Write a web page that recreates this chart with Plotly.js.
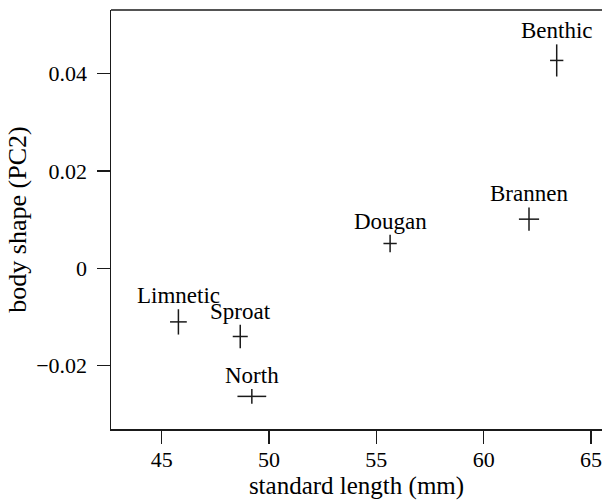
<!DOCTYPE html>
<html>
<head>
<meta charset="utf-8">
<script src="https://cdn.plot.ly/plotly-3.0.1.min.js"></script>
<style>html,body{margin:0;padding:0;background:#fff;}#chart{width:602px;height:501px;}</style>
</head>
<body>
<div id="chart"></div>
<script>
const sites = ['Benthic', 'Brannen', 'Dougan', 'Limnetic', 'Sproat', 'North'];
const lengthMean = [63.40, 62.11, 55.64, 45.78, 48.66, 49.20];
const pc2Mean = [0.0427, 0.0101, 0.0051, -0.0110, -0.0140, -0.0263];
const lengthSE = [0.31, 0.47, 0.31, 0.39, 0.35, 0.67];
const pc2SE = [0.0033, 0.0024, 0.0018, 0.0026, 0.0024, 0.0015];

const fontFam = 'Liberation Serif, Times New Roman, serif';
const ink = '#1a1a1a';

const trace = {
  type: 'scatter',
  mode: 'markers',
  x: lengthMean,
  y: pc2Mean,
  text: sites,
  marker: {size: 1, color: 'rgba(0,0,0,0)'},
  error_x: {type: 'data', array: lengthSE, visible: true, color: ink, thickness: 1.5, width: 0},
  error_y: {type: 'data', array: pc2SE, visible: true, color: ink, thickness: 1.5, width: 0},
  hoverinfo: 'text+x+y',
  showlegend: false
};

const annotations = sites.map((s, i) => ({
  x: lengthMean[i],
  y: pc2Mean[i] + pc2SE[i],
  xref: 'x', yref: 'y',
  text: s,
  showarrow: false,
  xanchor: 'center',
  yanchor: 'bottom',
  yshift: -1,
  font: {family: fontFam, size: 23, color: '#000'}
}));

const layout = {
  width: 602,
  height: 501,
  margin: {l: 111, r: 0, t: 10, b: 72},
  paper_bgcolor: '#fff',
  plot_bgcolor: '#fff',
  font: {family: fontFam, size: 22, color: '#000'},
  xaxis: {
    range: [42.64, 65.51],
    dtick: 5,
    tick0: 45,
    showgrid: false,
    zeroline: false,
    showline: true,
    linecolor: ink,
    linewidth: 1.5,
    ticks: 'outside',
    ticklen: 13,
    tickwidth: 1.5,
    tickcolor: ink,
    ticklabeloverflow: 'allow',
    ticklabelstandoff: -3,
    tickfont: {family: fontFam, size: 22, color: '#000'},
    title: {text: 'standard length (mm)', font: {family: fontFam, size: 25, color: '#000'}, standoff: 3}
  },
  yaxis: {
    range: [-0.0330, 0.05306],
    dtick: 0.02,
    tick0: 0,
    showgrid: false,
    zeroline: false,
    showline: true,
    linecolor: ink,
    linewidth: 1.5,
    ticks: 'outside',
    ticklen: 13,
    tickwidth: 1.5,
    tickcolor: ink,
    ticklabelstandoff: 5,
    tickfont: {family: fontFam, size: 22, color: '#000'},
    title: {text: 'body shape (PC2)', font: {family: fontFam, size: 26, color: '#000'}, standoff: 2}
  },
  shapes: [{
    type: 'line', xref: 'paper', yref: 'paper',
    x0: 0, x1: 1, y0: 1, y1: 1,
    line: {color: ink, width: 1.5}
  }],
  annotations: annotations
};

Plotly.newPlot('chart', [trace], layout, {displayModeBar: false, staticPlot: true});
</script>
</body>
</html>
